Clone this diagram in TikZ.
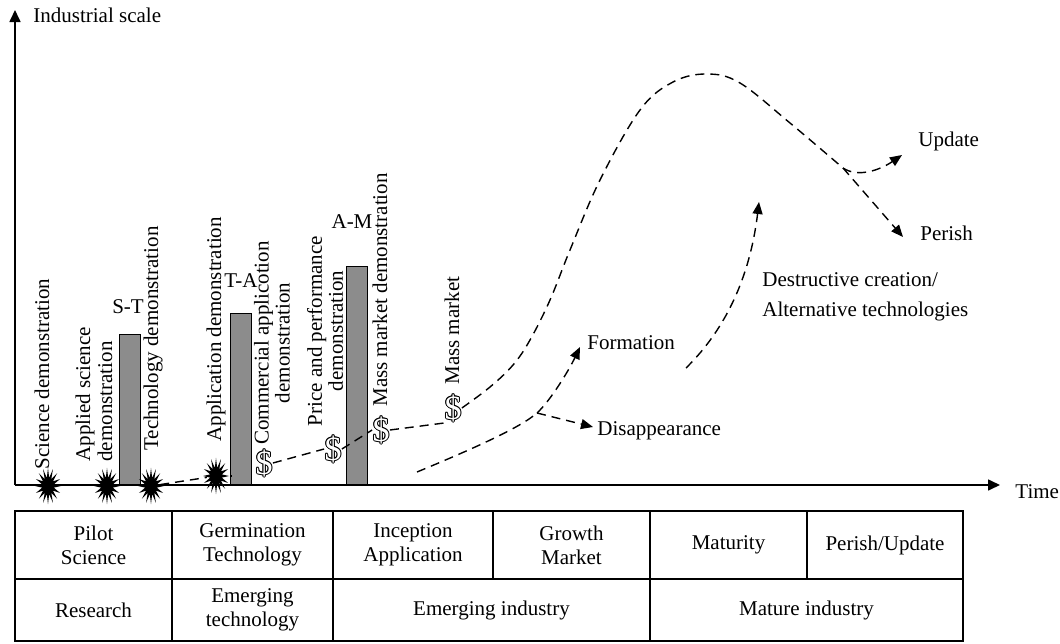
\documentclass[tikz,border=0pt]{standalone}
\usepackage{fontspec}
\setmainfont{Liberation Serif}
\usetikzlibrary{shapes.geometric,arrows.meta}
\definecolor{barg}{HTML}{8C8C8C}
\newcommand\odol{\leavevmode\rlap{\kern0.5pt\$}\rlap{\kern-0.5pt\$}\rlap{\raisebox{0.5pt}{\$}}\rlap{\raisebox{-0.5pt}{\$}}\rlap{\kern0.35pt\raisebox{0.35pt}{\$}}\rlap{\kern-0.35pt\raisebox{0.35pt}{\$}}\rlap{\kern0.35pt\raisebox{-0.35pt}{\$}}\rlap{\kern-0.35pt\raisebox{-0.35pt}{\$}}\textcolor{white}{\$}}
\begin{document}
\begin{tikzpicture}[x=0.5pt,y=-0.5pt,
  lbl/.style={font=\fontsize{10.5}{12}\selectfont, inner sep=0pt},
  vlbl/.style={lbl, rotate=90, anchor=west},
  vtwo/.style={inner sep=0pt, rotate=90, font=\fontsize{10.5}{9}\selectfont},
  bar/.style={draw=black, fill=barg, line width=0.6pt, inner sep=0pt, minimum width=10.5pt, anchor=south west},
  burst/.style={star, star points=16, star point ratio=2.2, fill=black, minimum size=13pt, inner sep=0pt, yscale=1.4, transform shape},
  dol/.style={inner sep=0pt, font=\fontsize{17}{17}\selectfont},
  dsh/.style={dash pattern=on 4.5pt off 3pt, line width=0.7pt},
  tip/.style={-{Triangle[length=6pt,width=5pt]}},
  axis/.style={line width=0.8pt, -{Triangle[length=6pt,width=5.5pt]}},
  cell/.style={lbl, align=center},
  tbl/.style={line width=0.6pt}
]
\useasboundingbox (0,0) rectangle (1060,643);
% axes
\coordinate (O) at (15,485);
\coordinate (ytip) at (15,10);
\coordinate (xtip) at (1000,485);
\draw[axis] (O) -- (ytip);
\draw[axis] (O) -- (xtip);
\node[lbl, anchor=west] (ylab) at (33,15) {Industrial scale};
\node[lbl, anchor=west] (xlab) at (1015,492) {Time};
% bars
\node[bar, minimum height=75pt] (st) at (119,485) {};
\node[bar, minimum height=85.5pt] (ta) at (230,485) {};
\node[bar, minimum height=109pt] (am) at (346,485) {};
\node[lbl] (stl) at (128,307) {S-T};
\node[lbl] (tal) at (241,281) {T-A};
\node[lbl] (aml) at (352,222) {A-M};
% rotated labels
\node[vlbl] (sd) at (42,470) {Science demonstration};
\node[vtwo, anchor=west, align=left, font=\fontsize{10.5}{11}\selectfont] (asd) at (94,462) {Applied science\\demonstration};
\node[vlbl] (td) at (153,451) {Technology demonstration};
\node[vlbl] (ad) at (216,442) {Application demonstration};
\node[vtwo, align=center] (cad) at (272,343) {Commercial applicotion\\demonstration};
\node[vtwo, align=center] (ppd) at (325,331) {Price and performance\\demonstration};
\node[vlbl] (mmd) at (380,407) {Mass market demonstration};
\node[vlbl] (mm) at (452,385) {Mass market};
% stars
\node[burst] (b1) at (48,486) {};
\node[burst] (b2) at (107,486) {};
\node[burst] (b3) at (151,486) {};
\node[burst] (b4) at (216,476) {};
% dollar symbols
\node[dol] (s1) at (264,463) {\odol};
\node[dol] (s2) at (333,449) {\odol};
\node[dol] (s3) at (381,430) {\odol};
\node[dol] (s4) at (453,408) {\odol};
% main dashed path
\draw[dsh] (b3) -- (b4);
\draw[dsh] (b4.east) -- (ta.west |- b4.east);
\draw[dsh] (s1.east) -- (s2.west);
\draw[dsh] (s2.east) -- (s3.west);
\draw[dsh] (s3.east) -- (s4.south west);
\coordinate (br1) at (843,168);
\draw[dsh] plot[smooth, tension=0.6] coordinates {(s4.east) (490,387) (513,365) (530,340) (550,300) (570,250) (600,180) (640,110) (673,82) (707,74) (740,83) (790,123) (br1)};
\node[lbl, anchor=west] (upd) at (918,141) {Update};
\node[lbl, anchor=west] (per) at (920,233) {Perish};
\coordinate (updt) at (902,155);
\coordinate (pert) at (903,237);
\draw[dsh, tip] (br1) .. controls (858,178) and (880,170) .. (updt);
\draw[dsh, tip] (br1) -- (pert);
% formation / disappearance
\coordinate (fa) at (417,472);
\coordinate (fb) at (537,413);
\coordinate (fc) at (580,347);
\coordinate (fd) at (593,427);
\draw[dsh] (fa) .. controls (470,450) and (520,428) .. (fb);
\draw[dsh, tip] (fb) .. controls (550,401) and (568,372) .. (fc);
\draw[dsh, tip] (fb) -- (fd);
\node[lbl, anchor=west] (form) at (587,343) {Formation};
\node[lbl, anchor=west] (disa) at (597,431) {Disappearance};
% destructive creation
\coordinate (da) at (686,368);
\coordinate (db) at (759,202);
\draw[dsh, tip] (da) .. controls (735,320) and (752,260) .. (db);
\node[lbl, anchor=west, align=left, font=\fontsize{10.5}{15}\selectfont] (dest) at (762,297) {Destructive creation/\\Alternative technologies};
% table
\draw[tbl] (15,511) rectangle (963,641);
\draw[tbl] (15,579) -- (963,579);
\foreach \x in {172,333,650} \draw[tbl] (\x,511) -- (\x,641);
\foreach \x in {493,807} \draw[tbl] (\x,511) -- (\x,579);
\node[cell] (c1) at (93.5,545) {Pilot\\Science};
\node[cell] (c2) at (252.5,545) {Germination\\Technology};
\node[cell] (c3) at (413,545) {Inception\\Application};
\node[cell] (c4) at (571.5,545) {Growth\\Market};
\node[cell] (c5) at (728.5,545) {Maturity};
\node[cell] (c6) at (885,545) {Perish/Update};
\node[cell] (d1) at (93.5,610) {Research};
\node[cell] (d2) at (252.5,610) {Emerging\\technology};
\node[cell] (d3) at (491.5,610) {Emerging industry};
\node[cell] (d4) at (806.5,610) {Mature industry};
\end{tikzpicture}
\end{document}
